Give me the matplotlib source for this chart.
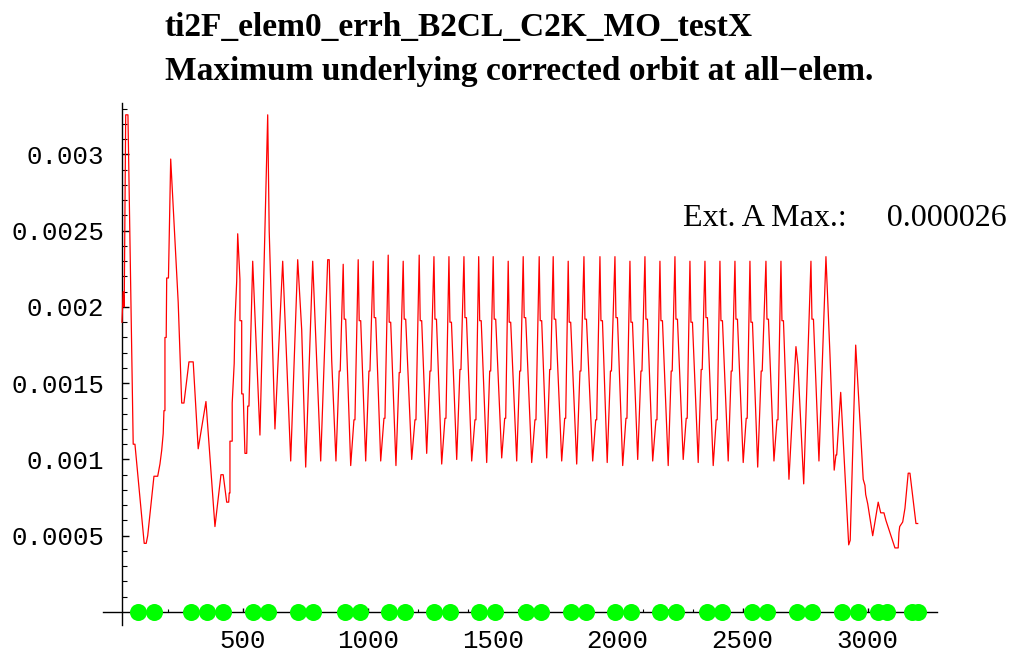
import matplotlib
matplotlib.use("Agg")
import matplotlib.pyplot as plt
from matplotlib.ticker import FixedLocator

# orbit maximum along s: injection / matching region
S_INJ = [17, 22, 26, 32, 41, 62, 69, 106, 114, 120,
         145, 160, 169, 176, 182, 185, 189, 189, 194, 196,
         203, 212, 242, 256, 265, 285, 302, 322, 353, 389,
         413, 422, 436, 444, 446, 449, 449, 458, 458, 466,
         469, 476, 480, 489, 489, 496, 496, 502, 509, 516,
         520, 525, 540, 569, 600, 606, 629, 660, 692, 720,
         736, 752, 780, 812, 840, 846, 856]
ORBIT_INJ = [0.00190, 0.00210, 0.00200, 0.00326, 0.00326, 0.00110, 0.00110, 0.00045, 0.00045, 0.00050,
             0.00089, 0.00089, 0.00097, 0.00106, 0.00117, 0.00132, 0.00132, 0.00180, 0.00180, 0.00219,
             0.00219, 0.00297, 0.00203, 0.00137, 0.00137, 0.00164, 0.00164, 0.00107, 0.00138, 0.00056,
             0.00090, 0.00090, 0.00072, 0.00072, 0.00078, 0.00078, 0.00112, 0.00112, 0.00137, 0.00163,
             0.00190, 0.00217, 0.00248, 0.00218, 0.00191, 0.00191, 0.00143, 0.00143, 0.00104, 0.00104,
             0.00135, 0.00135, 0.00230, 0.00116, 0.00326, 0.00250, 0.00120, 0.00230, 0.00099, 0.00231,
             0.00185, 0.00095, 0.00230, 0.00099, 0.00231, 0.00231, 0.00165]

# regular FODO arc: trough, rising ledge, peak, falling ledge per cell
S_ARC = [873, 886, 890, 902, 906, 912,
         932, 945, 949, 962, 966, 972,
         992, 1005, 1009, 1022, 1026, 1032,
         1052, 1065, 1069, 1082, 1086, 1092,
         1113, 1126, 1130, 1142, 1146, 1152,
         1176, 1189, 1193, 1206, 1210, 1216,
         1236, 1249, 1253, 1265, 1269, 1275,
         1296, 1309, 1313, 1325, 1329, 1335,
         1356, 1369, 1373, 1385, 1389, 1395,
         1416, 1429, 1433, 1444, 1448, 1454,
         1476, 1488, 1492, 1502, 1506, 1512,
         1536, 1548, 1552, 1562, 1566, 1572,
         1596, 1608, 1612, 1622, 1626, 1632,
         1656, 1669, 1673, 1686, 1690, 1696,
         1716, 1728, 1732, 1742, 1746, 1752,
         1776, 1788, 1792, 1802, 1806, 1812,
         1836, 1849, 1853, 1865, 1869, 1875,
         1900, 1912, 1916, 1929, 1933, 1939,
         1958, 1971, 1975, 1989, 1993, 1999,
         2020, 2033, 2037, 2049, 2053, 2059,
         2080, 2093, 2097, 2109, 2113, 2119,
         2140, 2153, 2157, 2169, 2173, 2179,
         2202, 2214, 2218, 2229, 2233, 2239,
         2262, 2274, 2278, 2289, 2293, 2299,
         2322, 2334, 2338, 2349, 2353, 2359,
         2382, 2394, 2398, 2409, 2413, 2419,
         2442, 2454, 2458, 2469, 2473, 2479,
         2502, 2514, 2518, 2529, 2533, 2539,
         2560, 2574, 2578, 2593, 2597, 2603,
         2625, 2637, 2641, 2653, 2657, 2663]
ORBIT_ARC = [0.00099, 0.00158, 0.00158, 0.00228, 0.00192, 0.00192,
             0.00096, 0.00126, 0.00126, 0.00231, 0.00191, 0.00191,
             0.00099, 0.00158, 0.00158, 0.00230, 0.00193, 0.00193,
             0.00099, 0.00127, 0.00127, 0.00234, 0.00190, 0.00190,
             0.00096, 0.00157, 0.00157, 0.00230, 0.00192, 0.00192,
             0.00100, 0.00126, 0.00126, 0.00234, 0.00191, 0.00191,
             0.00104, 0.00158, 0.00158, 0.00233, 0.00192, 0.00192,
             0.00097, 0.00127, 0.00127, 0.00233, 0.00190, 0.00190,
             0.00100, 0.00159, 0.00159, 0.00233, 0.00193, 0.00193,
             0.00099, 0.00126, 0.00126, 0.00233, 0.00191, 0.00191,
             0.00098, 0.00158, 0.00158, 0.00233, 0.00192, 0.00192,
             0.00101, 0.00127, 0.00127, 0.00230, 0.00190, 0.00190,
             0.00099, 0.00158, 0.00158, 0.00233, 0.00193, 0.00193,
             0.00098, 0.00126, 0.00126, 0.00233, 0.00191, 0.00191,
             0.00101, 0.00159, 0.00159, 0.00233, 0.00192, 0.00192,
             0.00099, 0.00127, 0.00127, 0.00230, 0.00190, 0.00190,
             0.00097, 0.00158, 0.00158, 0.00233, 0.00192, 0.00192,
             0.00099, 0.00126, 0.00126, 0.00233, 0.00191, 0.00191,
             0.00098, 0.00158, 0.00158, 0.00233, 0.00193, 0.00193,
             0.00096, 0.00127, 0.00127, 0.00230, 0.00190, 0.00190,
             0.00100, 0.00158, 0.00158, 0.00233, 0.00192, 0.00192,
             0.00099, 0.00126, 0.00126, 0.00230, 0.00191, 0.00191,
             0.00096, 0.00158, 0.00158, 0.00233, 0.00192, 0.00192,
             0.00100, 0.00127, 0.00127, 0.00230, 0.00190, 0.00190,
             0.00098, 0.00159, 0.00159, 0.00230, 0.00193, 0.00193,
             0.00096, 0.00126, 0.00126, 0.00230, 0.00191, 0.00191,
             0.00099, 0.00158, 0.00158, 0.00230, 0.00192, 0.00192,
             0.00098, 0.00127, 0.00127, 0.00230, 0.00190, 0.00190,
             0.00095, 0.00158, 0.00158, 0.00230, 0.00192, 0.00192,
             0.00099, 0.00126, 0.00126, 0.00230, 0.00191, 0.00191]

# dispersion suppressor and extraction
S_EXT = [2685, 2713, 2721, 2744, 2773, 2777, 2783, 2805, 2833, 2849,
         2866, 2873, 2876, 2892, 2924, 2930, 2952, 2982, 2989, 2992,
         3000, 3020, 3042, 3052, 3065, 3073, 3109, 3122, 3125, 3128,
         3140, 3149, 3162, 3169, 3193, 3200]
ORBIT_EXT = [0.00087, 0.00174, 0.00162, 0.00084, 0.00230, 0.00192, 0.00192, 0.00099, 0.00233, 0.00169,
             0.00093, 0.00103, 0.00103, 0.00144, 0.00044, 0.00047, 0.00175, 0.00087, 0.00083, 0.00077,
             0.00071, 0.00050, 0.00072, 0.00065, 0.00065, 0.00060, 0.00042, 0.00042, 0.00052, 0.00056,
             0.00059, 0.00068, 0.00091, 0.00091, 0.00058, 0.00058]

# quadrupole positions along the lattice
QUAD_S = [80, 146, 293, 356, 422, 542, 602, 720, 780, 909,
          969, 1086, 1149, 1266, 1329, 1445, 1509, 1632, 1692, 1812,
          1873, 1989, 2052, 2169, 2232, 2356, 2416, 2536, 2596, 2716,
          2776, 2896, 2962, 3042, 3076, 3176, 3202]

X_TICKS = [500, 1000, 1500, 2000, 2500, 3000]
X_LABELS = ["500", "1000", "1500", "2000", "2500", "3000"]
X_MINOR = [100, 200, 300, 400, 600, 700, 800, 900, 1100, 1200, 1300, 1400,
           1600, 1700, 1800, 1900, 2100, 2200, 2300, 2400, 2600, 2700, 2800,
           2900, 3100, 3200]
Y_TICKS = [0.0005, 0.001, 0.0015, 0.002, 0.0025, 0.003]
Y_LABELS = ["0.0005", "0.001", "0.0015", "0.002", "0.0025", "0.003"]
Y_MINOR = [0.0001, 0.0002, 0.0003, 0.0004, 0.0006, 0.0007, 0.0008, 0.0009,
           0.0011, 0.0012, 0.0013, 0.0014, 0.0016, 0.0017, 0.0018, 0.0019,
           0.0021, 0.0022, 0.0023, 0.0024, 0.0026, 0.0027, 0.0028, 0.0029,
           0.0031, 0.0032, 0.0033]

TITLE = "ti2F_elem0_errh_B2CL_C2K_MO_testX"
SUBTITLE = "Maximum underlying corrected orbit at all\u2212elem."
EXT_MAX = "Ext. A Max.:     0.000026"

s = S_INJ + S_ARC + S_EXT
orbit = ORBIT_INJ + ORBIT_ARC + ORBIT_EXT

fig = plt.figure(figsize=(10.17, 6.51), dpi=100)
ax = fig.add_axes([0, 0, 1, 1])
ax.set_xlim(-470.8, 3597.2)
ax.set_ylim(-0.000256, 0.004013)
ax.patch.set_visible(False)

ax.plot(s, orbit, color="#ff0000", lw=0.9, zorder=3)
ax.scatter(QUAD_S, [0] * len(QUAD_S), s=150, color="#00ff00",
           linewidths=0, zorder=4, clip_on=False)

# Mathematica-style axes crossing at the origin
for side in ("top", "right"):
    ax.spines[side].set_visible(False)
ax.spines["left"].set_position(("data", 18))
ax.spines["bottom"].set_position(("data", 0))
ax.spines["left"].set_bounds(-0.000085, 0.00334)
ax.spines["bottom"].set_bounds(-59, 3277)
for sp in ("left", "bottom"):
    ax.spines[sp].set_linewidth(1.0)

ax.set_xticks(X_TICKS)
ax.set_xticklabels(X_LABELS)
ax.set_yticks(Y_TICKS)
ax.set_yticklabels(Y_LABELS)
ax.xaxis.set_minor_locator(FixedLocator(X_MINOR))
ax.yaxis.set_minor_locator(FixedLocator(Y_MINOR))
ax.tick_params(axis="y", which="major", direction="in", length=5, width=1, pad=13)
ax.tick_params(axis="y", which="minor", direction="in", length=3.5, width=0.8)
ax.tick_params(axis="x", which="major", direction="in", length=3, width=1, pad=12)
ax.tick_params(axis="x", which="minor", direction="in", length=2, width=0.8)
for lab in ax.get_xticklabels() + ax.get_yticklabels():
    lab.set_fontfamily("Liberation Mono")
    lab.set_fontsize(18.5)

fig.text(0.1622, 0.9447, TITLE, family="Liberation Serif", weight="bold",
         fontsize=24, va="baseline", ha="left")
fig.text(0.1622, 0.8771, SUBTITLE, family="Liberation Serif", weight="bold",
         fontsize=24, va="baseline", ha="left")
fig.text(0.6716, 0.6528, EXT_MAX, family="Liberation Serif",
         fontsize=23, va="baseline", ha="left")

fig.savefig("out.png", dpi=100)
